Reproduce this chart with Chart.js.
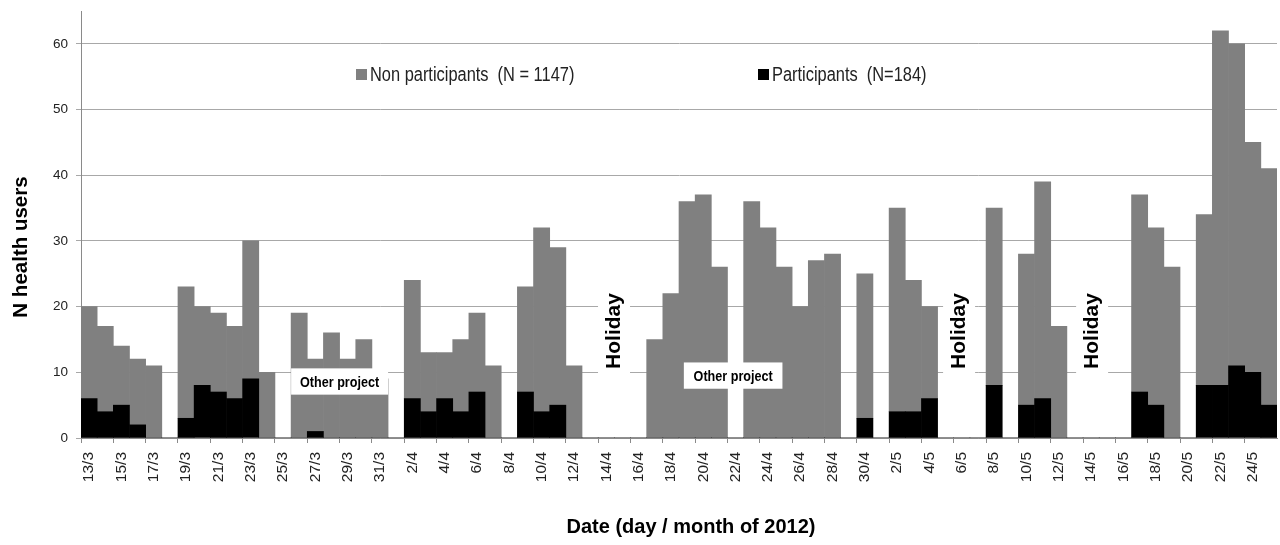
<!DOCTYPE html>
<html>
<head>
<meta charset="utf-8">
<script src="https://cdn.jsdelivr.net/npm/chart.js@4/dist/chart.umd.min.js"></script>
<style>
  html, body { margin: 0; padding: 0; background: #fff; }
</style>
</head>
<body>
<canvas id="chart" width="1280" height="545"></canvas>
<script>
// one category per day, 13 March to 25 May 2012
const days = [
  '13/3', '14/3', '15/3', '16/3', '17/3', '18/3', '19/3', '20/3', '21/3', '22/3',
  '23/3', '24/3', '25/3', '26/3', '27/3', '28/3', '29/3', '30/3', '31/3',
  '1/4', '2/4', '3/4', '4/4', '5/4', '6/4', '7/4', '8/4', '9/4', '10/4',
  '11/4', '12/4', '13/4', '14/4', '15/4', '16/4', '17/4', '18/4', '19/4', '20/4',
  '21/4', '22/4', '23/4', '24/4', '25/4', '26/4', '27/4', '28/4', '29/4', '30/4',
  '1/5', '2/5', '3/5', '4/5', '5/5', '6/5', '7/5', '8/5', '9/5', '10/5',
  '11/5', '12/5', '13/5', '14/5', '15/5', '16/5', '17/5', '18/5', '19/5', '20/5',
  '21/5', '22/5', '23/5', '24/5', '25/5'
];

const participants = [
  6, 4, 5, 2, 0, 0, 3, 8, 7, 6,
  9, 0, 0, 0, 1, 0, 0, 0, 0,
  0, 6, 4, 6, 4, 7, 0, 0, 7, 4,
  5, 0, 0, 0, 0, 0, 0, 0, 0, 0,
  0, 0, 0, 0, 0, 0, 0, 0, 0, 3,
  0, 4, 4, 6, 0, 0, 0, 8, 0, 5,
  6, 0, 0, 0, 0, 0, 7, 5, 0, 0,
  8, 8, 11, 10, 5
];

const nonParticipants = [
  14, 13, 9, 10, 11, 0, 20, 12, 12, 11,
  21, 10, 0, 19, 11, 16, 12, 15, 9,
  0, 18, 9, 7, 11, 12, 11, 0, 16, 28,
  24, 11, 0, 0, 0, 0, 15, 22, 36, 37,
  26, 0, 36, 32, 26, 20, 27, 28, 0, 22,
  0, 31, 20, 14, 0, 0, 0, 27, 0, 23,
  33, 17, 0, 0, 0, 0, 30, 27, 26, 0,
  26, 54, 49, 35, 36
];

const seriesNames = ['Non participants  (N = 1147)', 'Participants  (N=184)'];
const yTitle = 'N health users';
const xTitle = 'Date (day / month of 2012)';

// notes written over the bars: x in day units (edge of first day = 0), y in axis units
const projectNotes = [
  { text: 'Other project', x0: 13, x1: 19, y0: 6.6, y1: 10.6 },
  { text: 'Other project', x0: 37.3, x1: 43.4, y0: 7.5, y1: 11.5 }
];
const holidayNotes = [
  { text: 'Holiday', x: 32.98 },
  { text: 'Holiday', x: 54.33 },
  { text: 'Holiday', x: 62.56 }
];

const grey = '#808080';
const black = '#000000';
const font = '"Liberation Sans", Arial, sans-serif';

function dayEdge(scale, e) {
  return scale.getPixelForValue(e - 0.5);
}

// condensed look: draw the text squeezed horizontally
function narrowText(ctx, text, x, y, align, squeeze) {
  ctx.save();
  ctx.translate(x, y);
  ctx.scale(squeeze, 1);
  ctx.textAlign = align;
  ctx.fillText(text, 0, 0);
  ctx.restore();
}

const notesPlugin = {
  id: 'notes',
  afterDatasetsDraw(chart) {
    const { ctx, scales: { x, y } } = chart;
    ctx.save();
    ctx.textBaseline = 'middle';
    projectNotes.forEach((n) => {
      const l = dayEdge(x, n.x0);
      const r = dayEdge(x, n.x1);
      const t = y.getPixelForValue(n.y1);
      const b = y.getPixelForValue(n.y0);
      ctx.fillStyle = '#fff';
      ctx.fillRect(l, t, r - l, b - t);
      ctx.fillStyle = '#000';
      ctx.font = 'bold 15px ' + font;
      narrowText(ctx, n.text, (l + r) / 2, (t + b) / 2 + 1, 'center', 0.84);
    });
    holidayNotes.forEach((n) => {
      const cx = dayEdge(x, n.x);
      const cy = 331;
      ctx.fillStyle = '#fff';
      ctx.fillRect(cx - 16, cy - 45, 32, 90);
      ctx.save();
      ctx.translate(cx, cy);
      ctx.rotate(-Math.PI / 2);
      ctx.fillStyle = '#000';
      ctx.font = 'bold 21px ' + font;
      ctx.textAlign = 'center';
      ctx.fillText(n.text, 0, 0);
      ctx.restore();
    });

    // legend
    ctx.font = '20px ' + font;
    const items = [
      { name: seriesNames[0], color: grey, x: 356 },
      { name: seriesNames[1], color: black, x: 758 }
    ];
    items.forEach((it) => {
      ctx.fillStyle = it.color;
      ctx.fillRect(it.x, 69, 11, 11);
      ctx.fillStyle = '#222';
      narrowText(ctx, it.name, it.x + 14, 75, 'left', 0.82);
    });

    // axis titles
    ctx.fillStyle = '#000';
    ctx.font = 'bold 20px ' + font;
    ctx.textAlign = 'center';
    ctx.fillText(xTitle, 691, 527);
    ctx.save();
    ctx.translate(21, 247);
    ctx.rotate(-Math.PI / 2);
    ctx.font = 'bold 20.5px ' + font;
    ctx.fillText(yTitle, 0, 0);
    ctx.restore();
    ctx.restore();
  }
};

const ctx = document.getElementById('chart').getContext('2d');
new Chart(ctx, {
  type: 'bar',
  data: {
    labels: days,
    datasets: [
      {
        label: seriesNames[1],
        data: participants,
        backgroundColor: black,
        borderWidth: 0,
        barPercentage: 1,
        categoryPercentage: 1
      },
      {
        label: seriesNames[0],
        data: nonParticipants,
        backgroundColor: grey,
        borderWidth: 0,
        barPercentage: 1,
        categoryPercentage: 1
      }
    ]
  },
  options: {
    responsive: false,
    animation: false,
    devicePixelRatio: 1,
    layout: { padding: { top: 11, right: 3, left: 0, bottom: 0 } },
    plugins: {
      legend: { display: false },
      tooltip: { enabled: false }
    },
    scales: {
      x: {
        stacked: true,
        offset: true,
        grid: {
          offset: true,
          drawOnChartArea: false,
          drawTicks: true,
          tickLength: 5,
          color: (c) => (c.index % 2 === 0 ? '#8a8a8a' : 'rgba(0,0,0,0)')
        },
        border: { color: '#8a8a8a' },
        ticks: {
          autoSkip: false,
          minRotation: 90,
          maxRotation: 90,
          padding: 9,
          color: '#222',
          font: { family: font, size: 15.5 },
          callback: (v, i) => (i % 2 === 0 ? days[i] : '')
        },
        afterFit: (s) => {
          s.height = 107;
          s.paddingLeft = 0;
          s.paddingRight = 0;
        }
      },
      y: {
        stacked: true,
        min: 0,
        max: 65,
        grid: { color: '#a8a8a8', tickLength: 5 },
        border: { color: '#8a8a8a' },
        ticks: {
          stepSize: 10,
          includeBounds: false,
          padding: 8,
          color: '#222',
          font: { family: font, size: 13.5 }
        },
        afterFit: (s) => {
          s.width = 81;
          s.paddingTop = 0;
          s.paddingBottom = 0;
        }
      }
    }
  },
  plugins: [notesPlugin]
});
</script>
</body>
</html>
